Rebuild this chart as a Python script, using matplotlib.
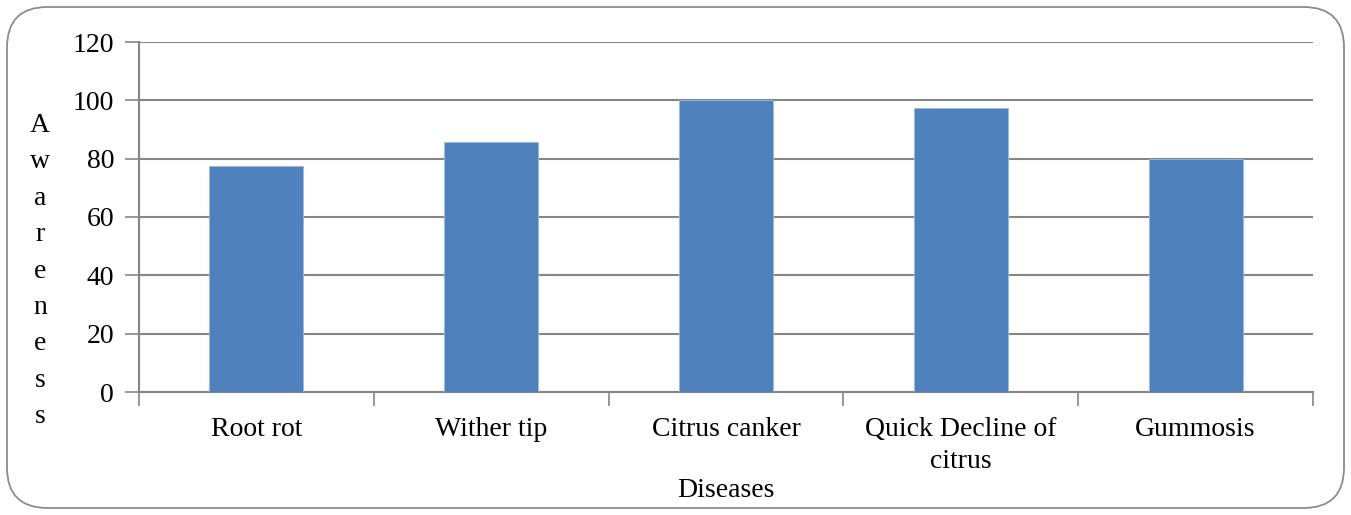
import matplotlib
matplotlib.use("Agg")
import matplotlib.pyplot as plt
from matplotlib.patches import FancyBboxPatch
import numpy as np

categories = ["Root rot", "Wither tip", "Citrus canker", "Quick Decline of\ncitrus", "Gummosis"]
values = [77.5, 85.8, 100, 97.5, 80]
yticks = [0, 20, 40, 60, 80, 100, 120]

W, H = 1351, 515
fig = plt.figure(figsize=(W/100, H/100), dpi=100)
plt.rcParams['font.family'] = ['Liberation Serif', 'DejaVu Serif']

# rounded border
border = FancyBboxPatch((7/W, 7/H), (W-14)/W, (H-14)/H,
                        boxstyle="round,pad=0,rounding_size=0.03",
                        transform=fig.transFigure, facecolor='none',
                        edgecolor='#8c8c8c', linewidth=1.3, mutation_aspect=W/H,
                        zorder=-1)
fig.patches.append(border)

left, right, top, bottom = 139, 1313, 42, 392
ax = fig.add_axes([left/W, 1-bottom/H, (right-left)/W, (bottom-top)/H])
ax.set_facecolor('none')

x = np.arange(len(categories))
ax.bar(x, values, width=0.4, color='#4F81BD', edgecolor='#9DB9DE', linewidth=0.6, zorder=3)
ax.set_xlim(-0.5, len(categories)-0.5)
ax.set_ylim(0, 120)
ax.set_yticks(yticks)
ax.set_yticklabels([str(v) for v in yticks], fontsize=20)
ax.yaxis.grid(True, color='#868686', linewidth=1.5, zorder=0)
ax.set_axisbelow(True)

# x ticks at category boundaries
ax.set_xticks(np.arange(-0.5, len(categories), 1.0))
ax.set_xticklabels([])
ax.set_xticks(x, minor=True)
ax.set_xticklabels(categories, minor=True, fontsize=20, linespacing=1.35, va='top')
ax.tick_params(axis='x', which='minor', length=0, pad=18)
ax.tick_params(axis='x', which='major', length=10, width=1.2, color='#868686', direction='out')
ax.tick_params(axis='y', length=10, width=1.2, color='#868686', direction='out', pad=8)

for s in ['top', 'right']:
    ax.spines[s].set_visible(False)
for s in ['left', 'bottom']:
    ax.spines[s].set_color('#868686')
    ax.spines[s].set_linewidth(1.5)

ax.set_xlabel("Diseases", fontsize=20, labelpad=3)

fig.text(40/W, 1-271/H, "\n".join("Awareness"), fontsize=20, ha='center', va='center',
         linespacing=1.6)

fig.savefig("out.png", dpi=100)
